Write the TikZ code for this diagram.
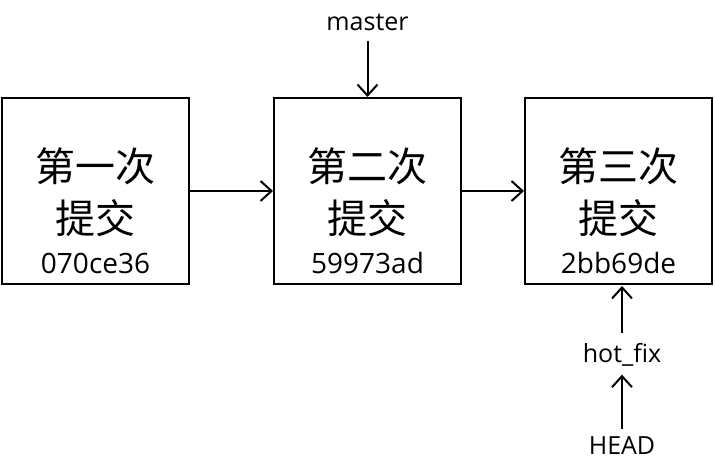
\documentclass[tikz,border=0pt]{standalone}
\usepackage{fontspec}
\setmainfont{Open Sans}
\newfontfamily\cjk{Noto Sans CJK SC}
\usetikzlibrary{arrows.meta,positioning}
\tikzstyle{commitBox} = [draw=black, line width=2pt, minimum width=187pt, minimum height=186pt, inner sep=0pt]
\tikzstyle{commitTitle} = [font=\cjk\fontsize{40}{52}\selectfont, align=center, inner sep=0pt]
\tikzstyle{commitHash} = [font=\fontsize{28}{30}\selectfont, inner sep=0pt]
\tikzstyle{refLabel} = [font=\fontsize{25}{28}\selectfont, inner sep=0pt]
\tikzstyle{pointer} = [line width=2pt, -{Straight Barb[length=11pt, width=20pt, line width=2pt]}]
\newcommand{\commit}[4]{
  \node [commitBox] (#1) at (#2, 191) {};
  \node [commitTitle] (#1Title) at ([yshift=-1pt]#1.center) {#3};
  \node [commitHash] (#1Hash) at ([yshift=-72pt]#1.center) {#4};
}
\begin{document}
\begin{tikzpicture}[x=1pt, y=-1pt]
  \useasboundingbox (0,0) rectangle (715,471);
  \commit{first}{95.5}{第一次\\提交}{070ce36}
  \commit{second}{367.5}{第二次\\提交}{59973ad}
  \commit{third}{618.5}{第三次\\提交}{2bb69de}

  \draw [pointer] (first.east) -- (second.west);
  \draw [pointer] (second.east) -- (third.west);

  \node [refLabel] (master) at (367.5, 22) {master};
  \node [refLabel] (hotfix) at (622, 355) {hot\_fix};
  \node [refLabel] (head) at (622, 446) {HEAD};
  \coordinate (thirdBottom) at (622, 286);

  \draw [pointer] ([yshift=-10pt]master.south) -- (second.north);
  \draw [pointer] ([yshift=10pt]hotfix.north) -- (thirdBottom);
  \draw [pointer] ([yshift=8pt]head.north) -- ([yshift=-8pt]hotfix.south);
\end{tikzpicture}
\end{document}
